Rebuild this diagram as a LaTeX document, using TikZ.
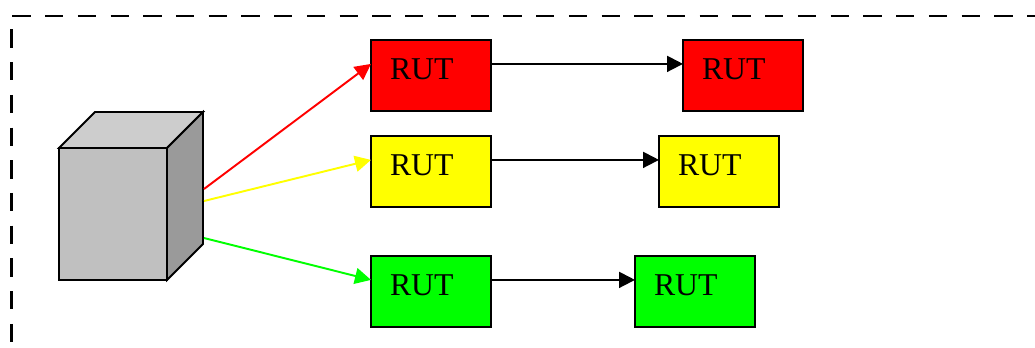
\documentclass[tikz,border=0pt]{standalone}
\usepackage{fontspec}
\setmainfont{Liberation Serif}
\usetikzlibrary{arrows.meta}
\definecolor{rutred}{RGB}{255,0,0}
\definecolor{rutyellow}{RGB}{255,255,0}
\definecolor{rutgreen}{RGB}{0,255,0}
\definecolor{cubefront}{RGB}{192,192,192}
\definecolor{cubetop}{RGB}{205,205,205}
\definecolor{cubeside}{RGB}{154,154,154}
\tikzset{
  rutbox/.style={draw=black,line width=1.3pt,anchor=north west,outer sep=0pt,inner ysep=0pt,inner xsep=14.25pt,
    text width=61.5pt,text height=29.4pt,text depth=23.85pt,align=left,text=black,
    font=\fontsize{23.8pt}{26pt}\selectfont},
  cubeface/.style={draw=black,line width=1.35pt,line join=miter},
  frameline/.style={line width=2.1pt,dash pattern=on 13.7pt off 10.85pt},
  link/.style={line width=1.45pt,-{Triangle[length=12pt,width=12pt]}},
}
\begin{document}
\begin{tikzpicture}[x=0.75pt,y=-0.75pt]
\useasboundingbox (0,0) rectangle (1035,347);
% dashed frame
\coordinate (frameTopStart) at (12.3,16);
\coordinate (frameTopEnd) at (1035,16);
\coordinate (frameLeftStart) at (11.2,29.3);
\coordinate (frameLeftEnd) at (11.2,343);
\draw[frameline] (frameTopStart) -- (frameTopEnd);
\draw[frameline] (frameLeftStart) -- (frameLeftEnd);
% cube
\filldraw[cubeface,fill=cubetop] (59,148) -- (95,112) -- (203,112) -- (167,148) -- cycle;
\filldraw[cubeface,fill=cubeside] (167,148) -- (203,112) -- (203,244) -- (167,280) -- cycle;
\node[cubeface,fill=cubefront,anchor=north west,minimum width=81pt,minimum height=99pt,inner sep=0pt,outer sep=0pt] (cube) at (59,148) {};
\coordinate (cubeRed) at (204,189);
\coordinate (cubeYellow) at (204,201);
\coordinate (cubeGreen) at (204,238);
% boxes
\node[rutbox,fill=rutred] (redA) at (371,40) {RUT};
\node[rutbox,fill=rutyellow] (yellowA) at (371,136) {RUT};
\node[rutbox,fill=rutgreen] (greenA) at (371,256) {RUT};
\node[rutbox,fill=rutred] (redB) at (683,40) {RUT};
\node[rutbox,fill=rutyellow] (yellowB) at (659,136) {RUT};
\node[rutbox,fill=rutgreen] (greenB) at (635,256) {RUT};
% connector ports
\coordinate (redAin) at ([yshift=8.7pt]redA.west);
\coordinate (yellowAin) at ([yshift=8.7pt]yellowA.west);
\coordinate (greenAin) at ([yshift=8.7pt]greenA.west);
\coordinate (redAout) at ([yshift=8.7pt]redA.east);
\coordinate (yellowAout) at ([yshift=8.7pt]yellowA.east);
\coordinate (greenAout) at ([yshift=8.7pt]greenA.east);
\coordinate (redBin) at ([yshift=8.7pt]redB.west);
\coordinate (yellowBin) at ([yshift=8.7pt]yellowB.west);
\coordinate (greenBin) at ([yshift=8.7pt]greenB.west);
% connectors
\draw[link,rutred] (cubeRed) -- (redAin);
\draw[link,rutyellow] (cubeYellow) -- (yellowAin);
\draw[link,rutgreen] (cubeGreen) -- (greenAin);
\draw[link,black] (redAout) -- (redBin);
\draw[link,black] (yellowAout) -- (yellowBin);
\draw[link,black] (greenAout) -- (greenBin);
\end{tikzpicture}
\end{document}
